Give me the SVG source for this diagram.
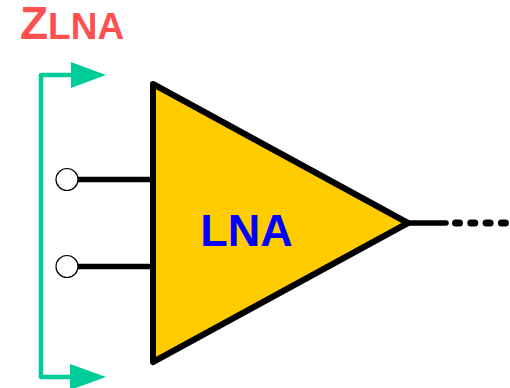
<svg xmlns="http://www.w3.org/2000/svg" width="510" height="388" viewBox="0 0 510 388">
<style>
.t{font-family:"Liberation Sans",Arial,sans-serif;font-weight:700}
.bk{fill:none;stroke:#000;stroke-width:5.5;stroke-linecap:round}
.gr{fill:none;stroke:#00cc99;stroke-width:4.5;stroke-linejoin:round}
.ah{fill:#00cc99}
.pin{fill:#fff;stroke:#000;stroke-width:1.2}
</style>
<rect width="510" height="388" fill="#fff"/>
<g id="connectors">
<path class="bk" d="M78 179.5H152"/>
<path class="bk" d="M78 266.500H152"/>
<path class="bk" d="M408 223H446"/>
<path d="M455.500 223H506" fill="none" stroke="#000" stroke-width="7" stroke-linecap="round" stroke-dasharray="4 11.300"/>
<path class="gr" d="M71 75H41V377H71"/>
<polygon class="ah" points="71,62 106,75 71,88"/>
<polygon class="ah" points="70,364 106,377 70,390"/>
</g>
<g id="lna">
<polygon points="153,84 408,223 153,362" fill="#ffcc00" stroke="#000" stroke-width="6" stroke-linejoin="round"/>
<text class="t" x="246.500" y="246" font-size="45" fill="#0000ff" text-anchor="middle">LNA</text>
</g>
<g id="pin1"><circle class="pin" cx="67" cy="179.500" r="11"/></g>
<g id="pin2"><circle class="pin" cx="67" cy="266.500" r="11"/></g>
<g id="label"><text class="t" x="20" y="39" font-size="46" fill="#ff5050">Z<tspan font-size="37">LNA</tspan></text></g>
</svg>
